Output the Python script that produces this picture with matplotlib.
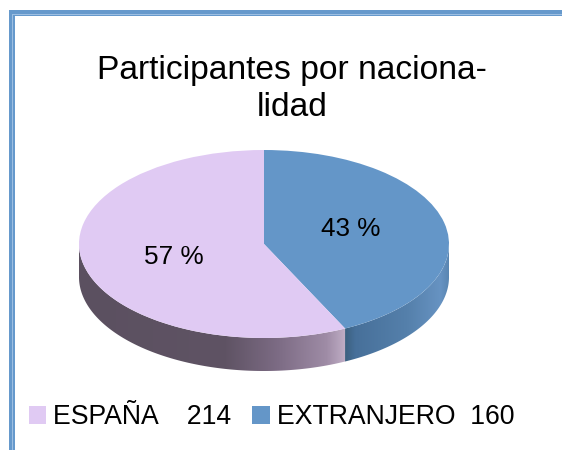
import numpy as np
import matplotlib
matplotlib.use("Agg")
import matplotlib.pyplot as plt
from matplotlib.colors import LinearSegmentedColormap
from matplotlib.patches import Polygon, Rectangle

plt.rcParams['font.family'] = ['Liberation Sans', 'DejaVu Sans']

categories = ["ESPAÑA", "EXTRANJERO"]
values = [214, 160]
legend_labels = ["ESPAÑA    214", "EXTRANJERO  160"]
title = "Participantes por naciona-\nlidad"
colors = ["#e0caf3", "#6496c8"]

W, H = 562, 450
fig = plt.figure(figsize=(W / 100, H / 100), dpi=100, facecolor="white")

# frame (top and left only)
bg = fig.add_axes([0, 0, 1, 1])
bg.set_xlim(0, W); bg.set_ylim(H, 0); bg.axis("off")
bg.add_patch(Rectangle((9, 10), W, 6, fc="#6699cc", ec="none"))
bg.add_patch(Rectangle((9, 10), 6, H, fc="#6699cc", ec="none"))
bg.add_patch(Rectangle((12, 14), W, 1, fc="#9dbfe2", ec="none"))
bg.add_patch(Rectangle((12, 14), 1, H, fc="#9dbfe2", ec="none"))
bg.text(292, 89, title, ha="center", va="center", fontsize=24.2, linespacing=1.25, color="black")

# pie
L, R, T, CY, RY, DEPTH = 79, 449, 150, 244, 94, 33
ybot = (CY + RY + DEPTH)
ax = fig.add_axes([L / W, 1 - ybot / H, (R - L) / W, (ybot - T) / H])
d = DEPTH / RY
total = sum(values)
wedges, _, autotexts = ax.pie(values[::-1], colors=colors[::-1], startangle=90, counterclock=False,
                              radius=1, center=(0, 0), autopct="%.0f %%",
                              textprops=dict(fontsize=18.8, color="black"))
ax.set_aspect("auto")
ax.set_xlim(-1, 1); ax.set_ylim(-1 - d, 1)
autotexts[0].set_position(((351 - 264) / 185, (244 - 229) / 94))
autotexts[1].set_position(((174 - 264) / 185, (244 - 257) / 94))


def side(a0, a1, stops):
    th = np.radians(np.linspace(a0, a1, 200))
    x, y = np.cos(th), np.sin(th)
    poly = np.r_[np.c_[x, y], np.c_[x[::-1], y[::-1] - d]]
    x0, x1 = x.min(), x.max()
    cmap = LinearSegmentedColormap.from_list("s", stops)
    im = ax.imshow(np.linspace(0, 1, 256)[None, :], cmap=cmap, aspect="auto",
                   extent=(x0, x1, -1 - d, 1), zorder=0.5)
    clip = Polygon(poly, transform=ax.transData, fc="none", ec="none")
    ax.add_patch(clip)
    im.set_clip_path(clip)


split = 360 + 90 - 360 * values[1] / total
side(180, split, [(0, "#5b5060"), (0.55, "#5f5364"), (0.75, "#7d6c85"), (0.93, "#9f8ca6"), (1, "#c0aec6")])
side(split, 360, [(0, "#3c607f"), (0.1, "#47709a"), (0.6, "#5580ab"), (0.92, "#6793c2"), (1, "#5a86b2")])
ax.set_xlim(-1, 1); ax.set_ylim(-1 - d, 1)
ax.set_aspect("auto")

leg = fig.legend(wedges[::-1], legend_labels, ncol=2, frameon=False, fontsize=19.2,
                 loc="center left", bbox_to_anchor=(29 / W, 1 - 417.5 / H),
                 handlelength=0.64, handleheight=0.64, handletextpad=0.27, columnspacing=0.79,
                 borderpad=0, borderaxespad=0)
fig.savefig("out.png", dpi=100, facecolor="white")
